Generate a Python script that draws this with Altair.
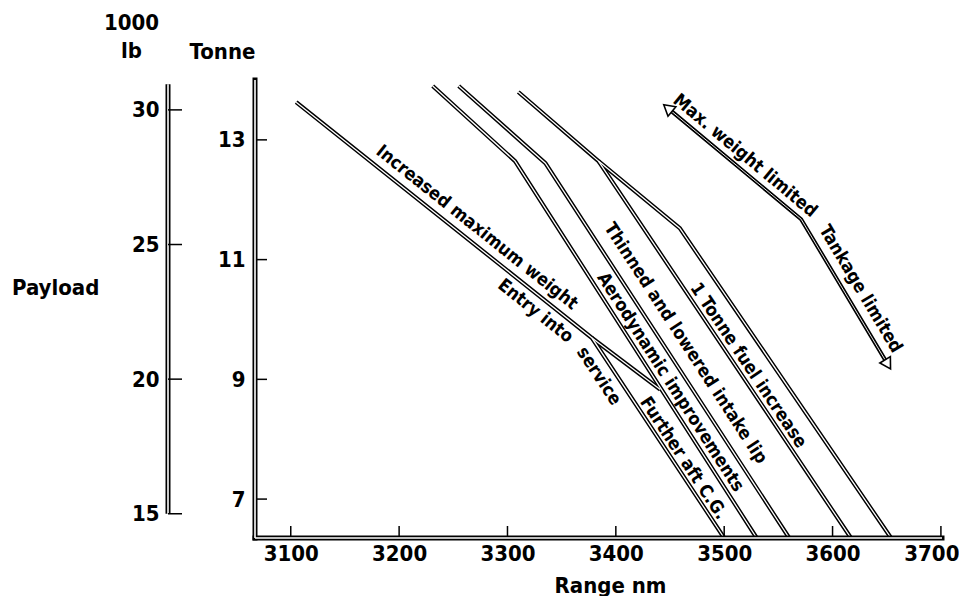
import math
import altair as alt
import pandas as pd

# ---------------- values ----------------
x_ticks = [3100, 3200, 3300, 3400, 3500, 3600, 3700]
tonne_ticks = [7, 9, 11, 13]
lb_ticks = [15, 20, 25, 30]

range_min, range_max = 3067, 3701
tonne_min, tonne_max = 6.35, 14.0
lb_min, lb_max = 14.10, 31.11
lb_axis_span = [15, 30.95]

eis_range = [3105, 3378, 3500]
eis_tonne = [13.63, 9.69, 6.35]
aftcg_range = [3378, 3441]
aftcg_tonne = [9.69, 8.83]
aero_range = [3231, 3307, 3530]
aero_tonne = [13.90, 12.645, 6.35]
intake_range = [3255, 3335, 3560]
intake_tonne = [13.90, 12.61, 6.35]
thin_range = [3310, 3384, 3617]
thin_tonne = [13.80, 12.645, 6.35]
fuel_range = [3384, 3459, 3654]
fuel_tonne = [12.645, 11.525, 6.35]
arrow_range = [3448, 3571, 3651]
arrow_tonne = [13.53, 11.675, 9.25]

label_text = ["Increased maximum weight", "Entry into", "service", "Further aft C.G.",
              "Aerodynamic improvements", "Thinned and lowered intake lip",
              "1 Tonne fuel increase", "Max. weight limited", "Tankage limited"]
label_range = [3271.5, 3325.5, 3384, 3462, 3450, 3464, 3522, 3519, 3625.5]
label_tonne = [11.53, 10.137, 9.05, 7.68, 8.95, 9.60, 9.23, 12.73, 10.505]
label_follows = [("eis", 0), ("eis", 0), ("eis", 1), ("eis", 1), ("aero", 1),
                 ("intake", 1), ("thin", 1), ("arrow", 0), ("arrow", 1)]

# ---------------- layout ----------------
W, H = 687, 458
LB_OFFSET = 87
BOLD = "DejaVu Sans Condensed, sans-serif"
LABEL = "DejaVu Sans Condensed, sans-serif"
TICK_FS = 22

ppn = W / (range_max - range_min)
ppt = H / (tonne_max - tonne_min)

series = {
    "eis": (eis_range, eis_tonne),
    "aftcg": (aftcg_range, aftcg_tonne),
    "aero": (aero_range, aero_tonne),
    "intake": (intake_range, intake_tonne),
    "thin": (thin_range, thin_tonne),
    "fuel": (fuel_range, fuel_tonne),
    "arrow": (arrow_range, arrow_tonne),
}

def seg_angle(name, i):
    xs, ts = series[name]
    dx = (xs[i + 1] - xs[i]) * ppn
    dy = (ts[i] - ts[i + 1]) * ppt
    return math.degrees(math.atan2(dy, dx)) % 360

rows = []
for name, (xs, ts) in series.items():
    for k, (xv, tv) in enumerate(zip(xs, ts)):
        rows.append({"line": name, "order": k, "range": xv, "tonne": tv})
lines_df = pd.DataFrame(rows)

labels_df = pd.DataFrame({
    "text": label_text,
    "range": label_range,
    "tonne": label_tonne,
    "angle": [seg_angle(n, i) for n, i in label_follows],
})

def head_angle(i_from, i_to):
    dx = (arrow_range[i_to] - arrow_range[i_from]) * ppn
    dy_screen = -(arrow_tonne[i_to] - arrow_tonne[i_from]) * ppt
    return math.degrees(math.atan2(dx, -dy_screen)) % 360

heads_df = pd.DataFrame({
    "range": [arrow_range[0], arrow_range[-1]],
    "tonne": [arrow_tonne[0], arrow_tonne[-1]],
    "angle": [head_angle(1, 0), head_angle(1, 2)],
})

frame_df = pd.DataFrame({
    "range": [range_min, range_min],
    "range2": [range_max, range_min],
    "tonne": [tonne_min, tonne_min],
    "tonne2": [tonne_min, tonne_max],
})
xt_df = pd.DataFrame({"range": x_ticks})
yt_df = pd.DataFrame({"tonne": tonne_ticks})
lbt_df = pd.DataFrame({"lb": lb_ticks})
lbline_df = pd.DataFrame({"lb": [lb_axis_span[0]], "lb2": [lb_axis_span[1]]})
payload_df = pd.DataFrame({"t": ["Payload"]})

# ---------------- scales / axes ----------------
xscale = alt.Scale(domain=[range_min, range_max], nice=False, zero=False)
yscale = alt.Scale(domain=[tonne_min, tonne_max], nice=False, zero=False)
xaxis = alt.Axis(values=x_ticks, title="Range nm", labelPadding=5, format="d",
                 labelFlush=3, labelFlushOffset=18,
                 titleX=355, titleY=47, titleBaseline="middle", titleAlign="center")
yaxis = alt.Axis(values=tonne_ticks, title="Tonne", labelPadding=10, format="d",
                 titleAngle=0, titleX=-33, titleY=-29, titleAlign="center",
                 titleBaseline="middle")
X = alt.X("range:Q", scale=xscale, axis=xaxis)
Y = alt.Y("tonne:Q", scale=yscale, axis=yaxis)

def double_line(df, black_w, white_w):
    b = alt.Chart(df).mark_line(color="black", strokeWidth=black_w, strokeJoin="miter",
                                strokeCap="butt").encode(x=X, y=Y, detail="line:N", order="order:Q")
    w = alt.Chart(df).mark_line(color="white", strokeWidth=white_w, strokeJoin="miter",
                                strokeCap="butt").encode(x=X, y=Y, detail="line:N", order="order:Q")
    return b, w

curves_b, curves_w = double_line(lines_df[lines_df.line != "arrow"], 4.2, 1.3)
arrow_b, arrow_w = double_line(lines_df[lines_df.line == "arrow"], 4.0, 0.9)

heads = alt.Chart(heads_df).mark_point(shape="triangle-up", filled=True, fill="white",
                                       stroke="black", strokeWidth=1.6, size=150, opacity=1).encode(
    x=X, y=Y, angle=alt.Angle("angle:Q", scale=None))

texts = alt.Chart(labels_df).mark_text(font=LABEL, fontSize=18, fontWeight="bold", color="black",
                                       align="center", baseline="middle").encode(
    x=X, y=Y, text="text:N", angle=alt.Angle("angle:Q", scale=None))

frame_b = alt.Chart(frame_df).mark_rule(color="black", strokeWidth=5, strokeCap="square").encode(
    x=X, x2="range2:Q", y=Y, y2="tonne2:Q")
frame_w = alt.Chart(frame_df).mark_rule(color="white", strokeWidth=1.6).encode(
    x=X, x2="range2:Q", y=Y, y2="tonne2:Q")

xticks = alt.Chart(xt_df).mark_rule(color="black", strokeWidth=1.5).encode(
    x=X, y=alt.value(H), y2=alt.value(H - 12))
yticks = alt.Chart(yt_df).mark_rule(color="black", strokeWidth=1.5).encode(
    y=Y, x=alt.value(0), x2=alt.value(12))

main = alt.layer(curves_b, curves_w, arrow_b, arrow_w, heads, texts,
                 xticks, yticks, frame_b, frame_w)

lbscale = alt.Scale(domain=[lb_min, lb_max], nice=False, zero=False)
lbaxis = alt.Axis(orient="left", offset=LB_OFFSET, values=lb_ticks, format="d",
                  labelPadding=9, title=["1000", "lb"], titleAngle=0, titleX=-37,
                  titleY=-68, titleAlign="center", titleBaseline="top",
                  titleLineHeight=28)
LBY = alt.Y("lb:Q", scale=lbscale, axis=lbaxis)

lb_line_b = alt.Chart(lbline_df).mark_rule(color="black", strokeWidth=5).encode(
    y=LBY, y2="lb2:Q", x=alt.value(-LB_OFFSET))
lb_line_w = alt.Chart(lbline_df).mark_rule(color="white", strokeWidth=1.6).encode(
    y=LBY, y2="lb2:Q", x=alt.value(-LB_OFFSET))
lb_tick = alt.Chart(lbt_df).mark_rule(color="black", strokeWidth=1.5).encode(
    y=LBY, x=alt.value(-LB_OFFSET), x2=alt.value(-LB_OFFSET + 14))
payload = alt.Chart(payload_df).mark_text(font=BOLD, fontSize=TICK_FS, fontWeight="bold",
                                          color="black", align="left", baseline="middle").encode(
    text="t:N", x=alt.value(-243), y=alt.value(208))

lb_layer = alt.layer(lb_line_b, lb_line_w, lb_tick, payload)

chart = alt.layer(main, lb_layer).resolve_scale(y="independent").properties(
    width=W, height=H, padding={"left": 4, "top": 3, "right": 0, "bottom": 0}
).configure_view(stroke=None).configure_axis(
    grid=False, domain=False, ticks=False,
    labelFont=BOLD, labelFontSize=TICK_FS, labelFontWeight="bold", labelColor="black",
    titleFont=BOLD, titleFontSize=TICK_FS, titleFontWeight="bold", titleColor="black",
)

chart.save("out.html", embed_options={"renderer": "svg", "actions": False})
